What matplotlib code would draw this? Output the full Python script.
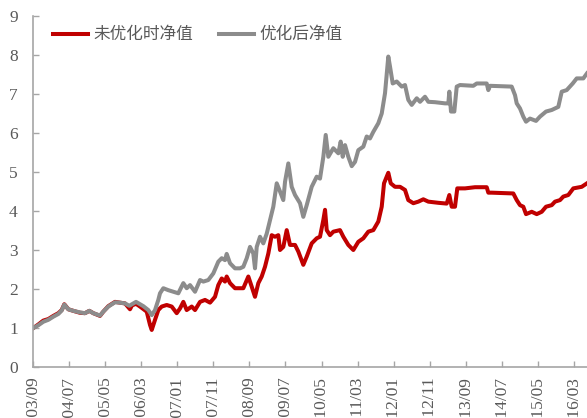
import matplotlib
matplotlib.use("Agg")
import matplotlib.pyplot as plt

plt.rcParams['font.family'] = ['Noto Sans CJK SC', 'DejaVu Sans']

# Time axis in decimal years; tick labels are year/month
tick_labels = ["2003/09", "2004/07", "2005/05", "2006/03", "2007/01", "2007/11",
               "2008/09", "2009/07", "2010/05", "2011/03", "2012/01", "2012/11",
               "2013/09", "2014/07", "2015/05", "2016/03"]

# Net value before optimisation
t_raw = [2003.674, 2003.789, 2003.905, 2004.021, 2004.136, 2004.252, 2004.330, 2004.390,
         2004.483, 2004.598, 2004.753, 2004.868, 2004.968, 2005.060, 2005.215, 2005.291,
         2005.407, 2005.562, 2005.677, 2005.793, 2005.908, 2005.954, 2006.047, 2006.139,
         2006.294, 2006.370, 2006.410, 2006.486, 2006.562, 2006.641, 2006.756, 2006.872,
         2006.987, 2007.063, 2007.140, 2007.218, 2007.334, 2007.410, 2007.526, 2007.641,
         2007.757, 2007.872, 2007.948, 2008.027, 2008.103, 2008.142, 2008.219, 2008.334,
         2008.526, 2008.642, 2008.720, 2008.796, 2008.873, 2008.951, 2009.027, 2009.104,
         2009.182, 2009.258, 2009.335, 2009.374, 2009.450, 2009.529, 2009.605, 2009.721,
         2009.797, 2009.912, 2009.991, 2010.106, 2010.222, 2010.298, 2010.375, 2010.414,
         2010.453, 2010.529, 2010.606, 2010.760, 2010.837, 2010.952, 2011.068, 2011.183,
         2011.299, 2011.414, 2011.530, 2011.645, 2011.724, 2011.777, 2011.839, 2011.876,
         2011.932, 2012.031, 2012.147, 2012.262, 2012.338, 2012.454, 2012.570, 2012.685,
         2012.801, 2013.032, 2013.226, 2013.286, 2013.341, 2013.417, 2013.470, 2013.649,
         2013.880, 2014.150, 2014.187, 2014.265, 2014.764, 2014.843, 2014.919, 2014.995,
         2015.058, 2015.190, 2015.305, 2015.421, 2015.520, 2015.652, 2015.728, 2015.844,
         2015.920, 2016.035, 2016.151, 2016.345, 2016.467]
v_raw = [1.00, 1.09, 1.19, 1.23, 1.31, 1.38, 1.46, 1.61,
         1.48, 1.44, 1.39, 1.38, 1.44, 1.38, 1.31, 1.42,
         1.56, 1.67, 1.65, 1.63, 1.48, 1.58, 1.62, 1.55,
         1.42, 1.08, 0.95, 1.21, 1.46, 1.55, 1.59, 1.55,
         1.38, 1.50, 1.67, 1.46, 1.55, 1.46, 1.67, 1.72,
         1.65, 1.80, 2.10, 2.27, 2.19, 2.32, 2.15, 2.02,
         2.02, 2.32, 2.06, 1.80, 2.15, 2.32, 2.57, 2.91,
         3.38, 3.34, 3.38, 3.00, 3.08, 3.51, 3.13, 3.13,
         2.96, 2.62, 2.83, 3.17, 3.30, 3.34, 3.77, 4.03,
         3.51, 3.38, 3.47, 3.51, 3.34, 3.13, 3.00, 3.21,
         3.30, 3.47, 3.51, 3.73, 4.11, 4.71, 4.88, 4.98,
         4.71, 4.62, 4.62, 4.54, 4.28, 4.20, 4.24, 4.30,
         4.24, 4.21, 4.19, 4.41, 4.11, 4.11, 4.58, 4.58,
         4.61, 4.61, 4.47, 4.47, 4.45, 4.28, 4.15, 4.11,
         3.92, 3.98, 3.92, 3.98, 4.11, 4.15, 4.24, 4.28,
         4.37, 4.41, 4.58, 4.62, 4.71]

# Net value after optimisation
t_opt = [2003.674, 2003.789, 2003.905, 2004.021, 2004.136, 2004.252, 2004.330, 2004.390,
         2004.483, 2004.598, 2004.753, 2004.868, 2004.968, 2005.060, 2005.215, 2005.291,
         2005.407, 2005.562, 2005.677, 2005.793, 2005.892, 2006.047, 2006.216, 2006.331,
         2006.410, 2006.486, 2006.562, 2006.601, 2006.678, 2006.793, 2006.909, 2007.024,
         2007.140, 2007.218, 2007.295, 2007.410, 2007.526, 2007.602, 2007.717, 2007.833,
         2007.948, 2008.027, 2008.103, 2008.142, 2008.219, 2008.334, 2008.450, 2008.526,
         2008.605, 2008.681, 2008.757, 2008.796, 2008.836, 2008.912, 2008.988, 2009.067,
         2009.143, 2009.219, 2009.298, 2009.374, 2009.450, 2009.490, 2009.566, 2009.644,
         2009.721, 2009.836, 2009.912, 2009.991, 2010.106, 2010.222, 2010.298, 2010.338,
         2010.375, 2010.430, 2010.490, 2010.606, 2010.721, 2010.776, 2010.823, 2010.876,
         2010.952, 2011.031, 2011.107, 2011.183, 2011.299, 2011.377, 2011.453, 2011.530,
         2011.645, 2011.724, 2011.800, 2011.876, 2011.916, 2011.978, 2012.070, 2012.186,
         2012.262, 2012.338, 2012.417, 2012.533, 2012.609, 2012.724, 2012.801, 2012.955,
         2013.186, 2013.263, 2013.286, 2013.325, 2013.401, 2013.457, 2013.533, 2013.840,
         2013.919, 2014.150, 2014.187, 2014.226, 2014.727, 2014.804, 2014.843, 2014.919,
         2014.995, 2015.058, 2015.150, 2015.289, 2015.381, 2015.520, 2015.652, 2015.728,
         2015.804, 2015.883, 2015.998, 2016.137, 2016.229, 2016.382, 2016.467]
v_opt = [1.00, 1.07, 1.16, 1.21, 1.29, 1.36, 1.45, 1.60,
         1.48, 1.44, 1.40, 1.38, 1.44, 1.38, 1.32, 1.42,
         1.55, 1.66, 1.65, 1.63, 1.57, 1.67, 1.56, 1.46,
         1.33, 1.46, 1.72, 1.89, 2.02, 1.97, 1.93, 1.89,
         2.15, 2.02, 2.10, 1.93, 2.23, 2.19, 2.23, 2.40,
         2.70, 2.79, 2.74, 2.90, 2.66, 2.53, 2.53, 2.57,
         2.79, 3.08, 2.91, 2.53, 3.08, 3.34, 3.17, 3.42,
         3.77, 4.11, 4.71, 4.50, 4.28, 4.75, 5.22, 4.62,
         4.41, 4.20, 3.85, 4.15, 4.62, 4.88, 4.83, 5.13,
         5.39, 5.95, 5.39, 5.61, 5.48, 5.78, 5.39, 5.69,
         5.39, 5.15, 5.26, 5.56, 5.65, 5.91, 5.86, 6.03,
         6.25, 6.50, 7.02, 7.96, 7.70, 7.27, 7.32, 7.19,
         7.23, 6.85, 6.72, 6.89, 6.80, 6.93, 6.80, 6.79,
         6.76, 6.76, 7.06, 6.55, 6.55, 7.19, 7.23, 7.21,
         7.27, 7.27, 7.10, 7.21, 7.19, 6.97, 6.76, 6.63,
         6.42, 6.29, 6.37, 6.31, 6.42, 6.55, 6.59, 6.63,
         6.67, 7.06, 7.10, 7.27, 7.40, 7.40, 7.53]

series_names = ["未优化时净值", "优化后净值"]

red = "#C00000"
grey = "#8C8C8C"
axis_grey = "#A6A6A6"
text_grey = "#595959"

fig = plt.figure(figsize=(5.87, 4.18), dpi=100)
ax = fig.add_axes([33 / 587, 1 - 367 / 418, 1 - 33 / 587, 351 / 418])

ax.plot(t_raw, v_raw, color=red, lw=2.9, solid_joinstyle="round", label=series_names[0])
ax.plot(t_opt, v_opt, color=grey, lw=2.9, solid_joinstyle="round", label=series_names[1])

tick_pos = [int(s[:4]) + (int(s[5:]) - 1) / 12 for s in tick_labels]
ax.set_xlim(tick_pos[0], 2016.467)
ax.set_ylim(0, 9)
ax.set_yticks(range(0, 10))
ax.set_xticks(tick_pos)
ax.set_xticklabels(tick_labels, rotation=90, family=["Liberation Serif"],
                   fontsize=12.5, color=text_grey)
ax.set_yticklabels([str(i) for i in range(10)], family=["Liberation Serif"],
                   fontsize=12.5, color=text_grey)

for side in ("top", "right"):
    ax.spines[side].set_visible(False)
for side in ("left", "bottom"):
    ax.spines[side].set_color(axis_grey)
    ax.spines[side].set_linewidth(1.2)
ax.tick_params(axis="both", direction="in", length=4, width=1.0, color=axis_grey)
ax.tick_params(axis="y", pad=11)
ax.tick_params(axis="x", pad=7)

leg = ax.legend(loc="center left", bbox_to_anchor=(0.036, 0.946), ncol=2,
                frameon=False, borderpad=0, borderaxespad=0,
                handlelength=2.1, handletextpad=0.35, columnspacing=1.5,
                prop={"family": ["Noto Sans CJK SC", "DejaVu Sans"], "size": 12})
for txt in leg.get_texts():
    txt.set_color(text_grey)

fig.savefig("out.png", dpi=100)
